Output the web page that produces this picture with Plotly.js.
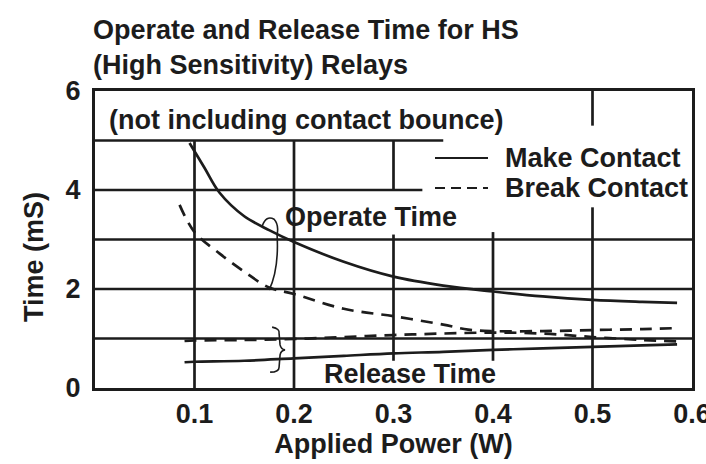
<!DOCTYPE html>
<html>
<head>
<meta charset="utf-8">
<script src="https://cdn.plot.ly/plotly-3.0.1.min.js"></script>
<style>
html,body{margin:0;padding:0;background:#fff;}
#chart{width:706px;height:464px;}
</style>
</head>
<body>
<div id="chart"></div>
<script>
// ---- data ----
var powerOperate = [0.095, 0.11, 0.125, 0.15, 0.175, 0.2, 0.25, 0.3, 0.35, 0.4, 0.45, 0.5, 0.55, 0.585];
var operateMake  = [4.95, 4.45, 3.95, 3.47, 3.19, 2.95, 2.55, 2.25, 2.07, 1.95, 1.85, 1.78, 1.74, 1.72];

var powerOperateBreak = [0.085, 0.1, 0.125, 0.15, 0.175, 0.2, 0.25, 0.3, 0.35, 0.375, 0.4, 0.45, 0.5, 0.55, 0.585];
var operateBreak      = [3.7, 3.15, 2.72, 2.35, 2.03, 1.9, 1.6, 1.45, 1.28, 1.18, 1.15, 1.15, 1.17, 1.19, 1.21];

var powerRelease = [0.09, 0.1, 0.15, 0.2, 0.25, 0.3, 0.35, 0.4, 0.45, 0.5, 0.55, 0.585];
var releaseMake  = [0.52, 0.53, 0.55, 0.6, 0.65, 0.7, 0.73, 0.77, 0.8, 0.83, 0.86, 0.88];
var releaseBreak = [0.95, 0.96, 0.97, 0.99, 1.03, 1.07, 1.1, 1.12, 1.1, 1.03, 0.97, 0.94];

var xTicks = [0.1, 0.2, 0.3, 0.4, 0.5, 0.6];
var xTickLabels = ['0.1', '0.2', '0.3', '0.4', '0.5', '0.6'];
var yTicks = [0, 2, 4, 6];
var yTickLabels = ['0', '2', '4', '6'];
var legendLabels = ['Make Contact', 'Break Contact'];

var titleText = 'Operate and Release Time for HS<br>(High Sensitivity) Relays';
var noteText = '(not including contact bounce)';
var operateLabel = 'Operate Time';
var releaseLabel = 'Release Time';
var xTitle = 'Applied Power (W)';
var yTitle = 'Time (mS)';

// ---- styling ----
var INK = '#1c1c1c';
var FONT = '"Liberation Sans", Arial, sans-serif';
var FS = 27;
var LW = 2.7;
var DASH = '12px,8px';

var traces = [
  {x: powerOperate, y: operateMake, mode: 'lines', line: {color: INK, width: LW, shape: 'spline'}, name: legendLabels[0], showlegend: false},
  {x: powerOperateBreak, y: operateBreak, mode: 'lines', line: {color: INK, width: LW, dash: DASH, shape: 'spline'}, name: legendLabels[1], showlegend: false},
  {x: powerRelease, y: releaseMake, mode: 'lines', line: {color: INK, width: LW, shape: 'spline'}, name: legendLabels[0], showlegend: false},
  {x: powerRelease, y: releaseBreak, mode: 'lines', line: {color: INK, width: LW, dash: DASH, shape: 'spline'}, name: legendLabels[1], showlegend: false}
];

// partial grid lines (as drawn in the original figure)
var hGrid = [[5, 0, 0.35], [4, 0, 0.329], [3, 0, 0.6], [2, 0, 0.6], [1, 0, 0.6]];
var vGrid = [[0.1, 0, 5], [0.2, 0, 5], [0.3, 0.55, 3.1], [0.3, 4, 5], [0.4, 0.55, 3.15], [0.5, 0, 3.65], [0.5, 5.3, 6]];

var shapes = [];
hGrid.forEach(function (g) {
  shapes.push({type: 'line', xref: 'x', yref: 'y', x0: g[1], x1: g[2], y0: g[0], y1: g[0], line: {color: INK, width: LW}, layer: 'below'});
});
vGrid.forEach(function (g) {
  shapes.push({type: 'line', xref: 'x', yref: 'y', x0: g[0], x1: g[0], y0: g[1], y1: g[2], line: {color: INK, width: LW}, layer: 'below'});
});
// leader for "Operate Time"
shapes.push({type: 'path', xref: 'x', yref: 'y',
  path: 'M0.168,3.27 Q0.172,3.5 0.18,3.41 Q0.185,3.3 0.183,3.1 Q0.185,2.4 0.175,1.98',
  line: {color: INK, width: 1.6}});
// brace for "Release Time"
shapes.push({type: 'path', xref: 'x', yref: 'y',
  path: 'M0.178,1.23 Q0.186,1.2 0.185,1.1 L0.186,0.87 Q0.187,0.78 0.191,0.77 Q0.187,0.76 0.186,0.67 L0.185,0.42 Q0.185,0.32 0.176,0.32',
  line: {color: INK, width: 1.6}});
// legend samples
shapes.push({type: 'line', xref: 'paper', yref: 'paper', x0: (435-95)/597, x1: (488-95)/597, y0: (388-158)/297, y1: (388-158)/297, line: {color: INK, width: 2}});
shapes.push({type: 'line', xref: 'paper', yref: 'paper', x0: (435-95)/597, x1: (488-95)/597, y0: (388-188)/297, y1: (388-188)/297, line: {color: INK, width: 2, dash: '10px,6px'}});

var tf = {family: FONT, size: FS, color: INK, weight: 'bold'};
var annotations = [
  {text: noteText, xref: 'paper', yref: 'paper', x: (107-95)/597, y: (388-120)/297, xanchor: 'left', yanchor: 'middle', showarrow: false, font: tf},
  {text: legendLabels[0], xref: 'paper', yref: 'paper', x: (503-95)/597, y: (388-158)/297, xanchor: 'left', yanchor: 'middle', showarrow: false, font: tf},
  {text: legendLabels[1], xref: 'paper', yref: 'paper', x: (503-95)/597, y: (388-188)/297, xanchor: 'left', yanchor: 'middle', showarrow: false, font: tf},
  {text: operateLabel, xref: 'paper', yref: 'paper', x: (283-95)/597, y: (388-217)/297, xanchor: 'left', yanchor: 'middle', showarrow: false, font: tf},
  {text: releaseLabel, xref: 'paper', yref: 'paper', x: (322-95)/597, y: (388-374)/297, xanchor: 'left', yanchor: 'middle', showarrow: false, font: tf},
  {text: yTitle, xref: 'paper', yref: 'paper', x: (34-95)/597, y: (388-257)/297, xanchor: 'center', yanchor: 'middle', textangle: -90, showarrow: false, font: tf}
];

var layout = {
  width: 706, height: 464,
  margin: {l: 95, r: 14, t: 91, b: 76},
  paper_bgcolor: '#fff', plot_bgcolor: '#fff',
  showlegend: false,
  title: {text: titleText, font: {family: FONT, size: FS, color: INK, weight: 'bold'},
          x: 93/706, xanchor: 'left', xref: 'container', y: 1 - 39/464, yanchor: 'top', yref: 'container'},
  xaxis: {range: [0, 0.6], tickvals: xTicks, ticktext: xTickLabels, showgrid: false, zeroline: false,
          showline: true, mirror: true, linecolor: INK, linewidth: 3, ticks: '', ticklabelstandoff: 0,
          ticklabeloverflow: 'allow',
          tickfont: {family: FONT, size: FS, color: INK, weight: 'bold'},
          title: {text: xTitle, font: {family: FONT, size: FS, color: INK, weight: 'bold'}, standoff: 6}},
  yaxis: {range: [0, 6], tickvals: yTicks, ticktext: yTickLabels, showgrid: false, zeroline: false,
          showline: true, mirror: true, linecolor: INK, linewidth: 3, ticks: '', ticklabelstandoff: 6,
          tickfont: {family: FONT, size: FS, color: INK, weight: 'bold'}},
  shapes: shapes,
  annotations: annotations
};

Plotly.newPlot('chart', traces, layout, {displayModeBar: false, staticPlot: true});
</script>
</body>
</html>
